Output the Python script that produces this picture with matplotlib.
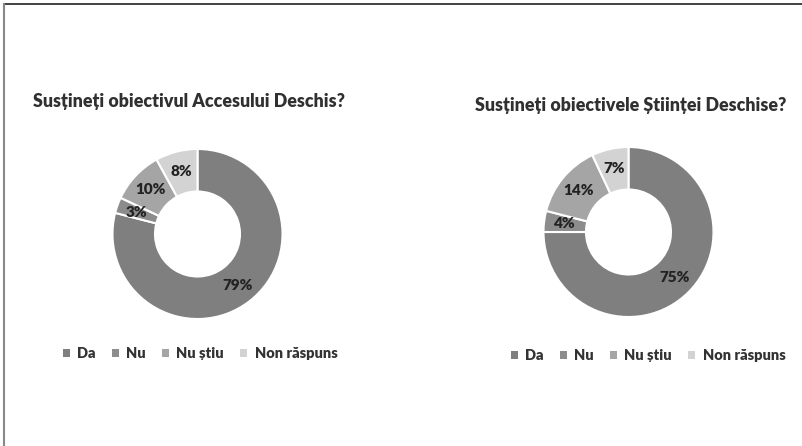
import matplotlib
matplotlib.use("Agg")
import matplotlib.pyplot as plt
from matplotlib.lines import Line2D
from matplotlib.patches import Patch

plt.rcParams['font.family'] = ['Lato', 'DejaVu Sans']

categories = ['Da', 'Nu', 'Nu știu', 'Non răspuns']
colors = ['#7f7f7f', '#8c8c8c', '#a5a5a5', '#d3d3d3']

title_left = 'Susțineți obiectivul Accesului Deschis?'
values_left = [79, 3, 10, 8]

title_right = 'Susțineți obiectivele Științei Deschise?'
values_right = [75, 4, 14, 7]

W, H = 802, 446
fig = plt.figure(figsize=(W / 100, H / 100), dpi=100)


def donut(cx, cy, r, values, title, tx, ty, ly, lx):
    ax = fig.add_axes([(cx - r) / W, 1 - (cy + r) / H, 2 * r / W, 2 * r / H])
    ax.pie(values, colors=colors, startangle=90, counterclock=False,
           radius=1, autopct='%d%%', pctdistance=0.76,
           wedgeprops=dict(width=0.5, edgecolor='white', linewidth=1.5),
           textprops=dict(fontsize=11, fontweight='heavy', color='#222222'))
    ax.set_xlim(-1, 1)
    ax.set_ylim(-1, 1)
    ax.set_aspect('equal')
    ax.axis('off')
    fig.text(tx / W, 1 - ty / H, title, ha='center', va='center',
             fontsize=12.8, fontweight='heavy', color='#303030')
    handles = [Patch(facecolor=c, edgecolor='none') for c in colors]
    fig.legend(handles, categories, loc='center', ncol=4,
               bbox_to_anchor=(lx / W, 1 - ly / H), frameon=False,
               prop=dict(size=10.5, weight='heavy'), labelcolor='#333333',
               handlelength=0.5, handleheight=0.5, handletextpad=0.5,
               columnspacing=1.1)


donut(197.5, 234, 85, values_left, title_left, 189, 101, 354, 200)
donut(628.5, 232, 85, values_right, title_right, 631, 105, 356, 648)

# partial frame (top and left edges)
fig.add_artist(Line2D([4 / W, 1], [1 - 4 / H, 1 - 4 / H], color='#222222', lw=1.2))
fig.add_artist(Line2D([4 / W, 4 / W], [0, 1 - 4 / H], color='#888888', lw=1.5))

fig.savefig('out.png', dpi=100)
